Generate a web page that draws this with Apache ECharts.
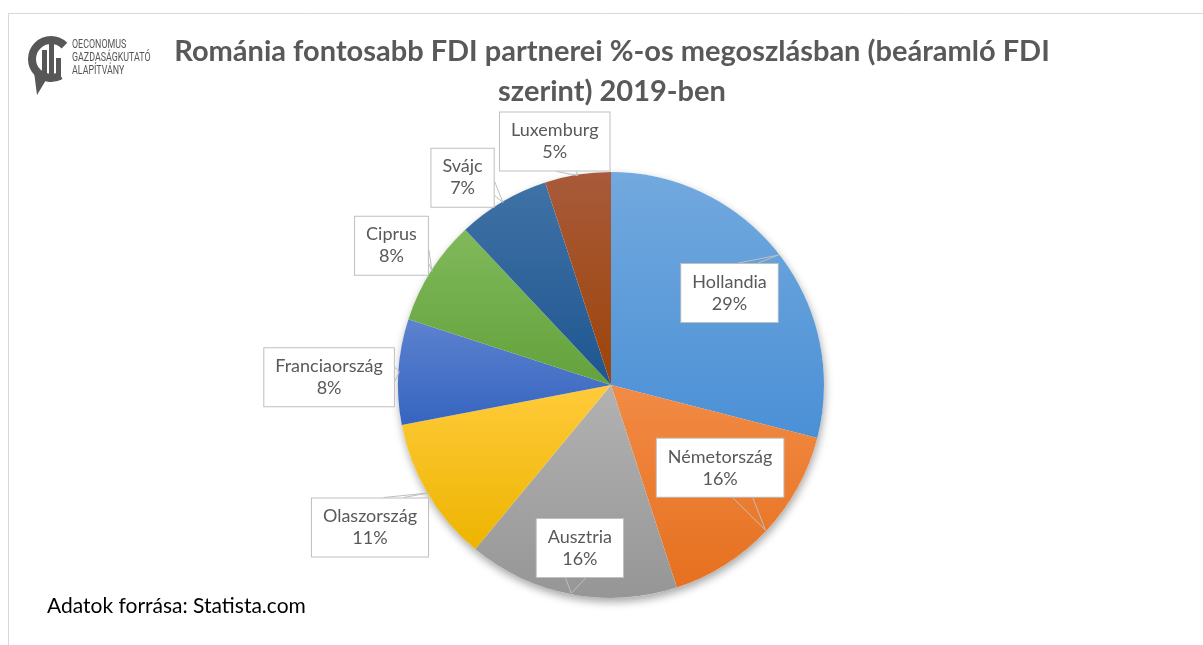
<!DOCTYPE html>
<html>
<head>
<meta charset="utf-8">
<script src="https://cdn.jsdelivr.net/npm/echarts@6/dist/echarts.min.js"></script>
<style>
  html, body { margin: 0; padding: 0; background: #fff; }
  #chart { width: 1203px; height: 645px; }
</style>
</head>
<body>
<div id="chart"></div>
<script>
// data (percent of inward FDI, 2019)
const countries = ['Hollandia', 'Németország', 'Ausztria', 'Olaszország', 'Franciaország', 'Ciprus', 'Svájc', 'Luxemburg']
const shares = [29, 16, 16, 11, 8, 8, 7, 5]

// office-like colours, lighter top -> darker bottom
const colorTop = ['#72a9de', '#f28b45', '#b2b2b2', '#ffcb3a', '#5d82cf', '#80b95b', '#3f72a6', '#a85a3a']
const colorBottom = ['#4b90d6', '#e6701f', '#969696', '#edb400', '#3565c0', '#63a23c', '#1f5690', '#9c4408']

// where each callout box sits: distance from centre and small angle nudge (deg)
const labelDist = [150, 137, 166, 280, 282, 260, 255, 250]
const labelNudge = [0, -6, 0, 0, -2, 0, -5, -4]

const cx = 611
const cy = 385
const R = 213

const total = shares.reduce((a, b) => a + b, 0)
const midAngle = []
let acc = 0
shares.forEach((v) => {
  midAngle.push(((acc + v / 2) / total) * 360)
  acc += v
})

const clamp = (v, lo, hi) => Math.max(lo, Math.min(hi, v))

// callout tail: two points on the box edge facing the slice + tip on the pie rim
function calloutTail(i, bx, by, w, h) {
  const a = (midAngle[i] * Math.PI) / 180
  const tx = cx + (R - 1) * Math.sin(a)
  const ty = cy - (R - 1) * Math.cos(a)
  const l = bx - w / 2, r = bx + w / 2, t = by - h / 2, b = by + h / 2
  if (ty < t || ty > b) {
    const ey = ty < t ? t : b
    const m = (bx + clamp(tx, l + 12, r - 12)) / 2
    return [[m - 10, ey], [tx, ty], [m + 10, ey]]
  }
  const ex = tx > r ? r : l
  const m = (by + clamp(ty, t + 8, b - 8)) / 2
  return [[ex, m - 7], [tx, ty], [ex, m + 7]]
}

const chart = echarts.init(document.getElementById('chart'))

const pieData = countries.map((name, i) => ({ name, value: shares[i] }))

const option = {
  animation: false,
  backgroundColor: '#fff',
  graphic: {
    elements: [
      // frame
      { type: 'line', shape: { x1: 8, y1: 13.5, x2: 1203, y2: 13.5 }, style: { stroke: '#d9d9d9', lineWidth: 1 } },
      { type: 'line', shape: { x1: 8.5, y1: 13, x2: 8.5, y2: 645 }, style: { stroke: '#d9d9d9', lineWidth: 1 } },
      // logo
      {
        type: 'arc',
        shape: { cx: 51, cy: 59, r: 19, startAngle: -Math.PI / 4, endAngle: Math.PI / 3, clockwise: false },
        style: { stroke: '#575757', fill: null, lineWidth: 8 },
      },
      { type: 'polygon', shape: { points: [[34, 72], [46, 80], [37, 95]] }, style: { fill: '#575757' } },
      { type: 'rect', shape: { x: 42, y: 50, width: 5, height: 30 }, style: { fill: '#575757' } },
      { type: 'rect', shape: { x: 49, y: 43, width: 5, height: 37 }, style: { fill: '#575757' } },
      { type: 'rect', shape: { x: 56, y: 58, width: 5, height: 22 }, style: { fill: '#575757' } },
      {
        type: 'text',
        x: 72,
        y: 58,
        scaleX: 0.74,
        style: {
          text: 'OECONOMUS\nGAZDASÁGKUTATÓ\nALAPÍTVÁNY',
          fill: '#555',
          font: '12px Roboto, sans-serif',
          lineHeight: 13,
          verticalAlign: 'middle',
          textVerticalAlign: 'middle',
        },
      },
      // title
      {
        type: 'text',
        x: 612,
        y: 32,
        style: {
          text: 'Románia fontosabb FDI partnerei %-os megoszlásban (beáramló FDI\nszerint) 2019-ben',
          fill: '#595959',
          font: 'bold 29px Lato, sans-serif',
          lineHeight: 40,
          align: 'center',
          textAlign: 'center',
          verticalAlign: 'top',
          textVerticalAlign: 'top',
        },
      },
      // source
      {
        type: 'text',
        x: 47,
        y: 606,
        style: {
          text: 'Adatok forrása: Statista.com',
          fill: '#000',
          font: '21px Lato, sans-serif',
          verticalAlign: 'middle',
          textVerticalAlign: 'middle',
        },
      },
    ],
  },
  series: [
    {
      // soft shadow under the pie
      type: 'pie',
      silent: true,
      center: [cx, cy],
      radius: R,
      z: 1,
      label: { show: false },
      labelLine: { show: false },
      itemStyle: {
        color: '#fff',
        borderWidth: 0,
        shadowBlur: 8,
        shadowOffsetX: 1,
        shadowOffsetY: 4,
        shadowColor: 'rgba(0,0,0,0.35)',
      },
      data: [{ value: 1 }],
    },
    {
      // the coloured slices
      type: 'pie',
      center: [cx, cy],
      radius: R,
      startAngle: 90,
      clockwise: true,
      z: 2,
      label: { show: false },
      labelLine: { show: false },
      itemStyle: { borderWidth: 0 },
      data: pieData.map((d, i) => ({
        ...d,
        itemStyle: {
          color: new echarts.graphic.LinearGradient(0, 0, 0, 1, [
            { offset: 0, color: colorTop[i] },
            { offset: 1, color: colorBottom[i] },
          ]),
        },
      })),
    },
    {
      // same pie, transparent, carrying the callout labels on top
      type: 'pie',
      silent: true,
      center: [cx, cy],
      radius: R,
      startAngle: 90,
      clockwise: true,
      avoidLabelOverlap: false,
      z: 3,
      itemStyle: { color: 'rgba(0,0,0,0)', borderWidth: 0 },
      data: pieData,
      label: {
        show: true,
        position: 'outside',
        formatter: (p) => p.name + '\n' + p.value + '%',
        color: '#595959',
        fontSize: 18,
        fontFamily: 'Lato, sans-serif',
        lineHeight: 22,
        align: 'center',
        backgroundColor: '#fff',
        borderColor: '#bfbfbf',
        borderWidth: 1,
        padding: [7, 11],
      },
      labelLine: { show: true, lineStyle: { color: '#bfbfbf', width: 1 } },
      labelLayout: (params) => {
        if (params.seriesIndex !== 2) return {}
        const i = params.dataIndex
        const a = ((midAngle[i] + labelNudge[i]) * Math.PI) / 180
        const x = cx + labelDist[i] * Math.sin(a)
        const y = cy - labelDist[i] * Math.cos(a)
        return {
          x,
          y,
          align: 'center',
          verticalAlign: 'middle',
          labelLinePoints: calloutTail(i, x, y, params.labelRect.width, params.labelRect.height),
        }
      },
    },
  ],
}

chart.setOption(option)
</script>
</body>
</html>
